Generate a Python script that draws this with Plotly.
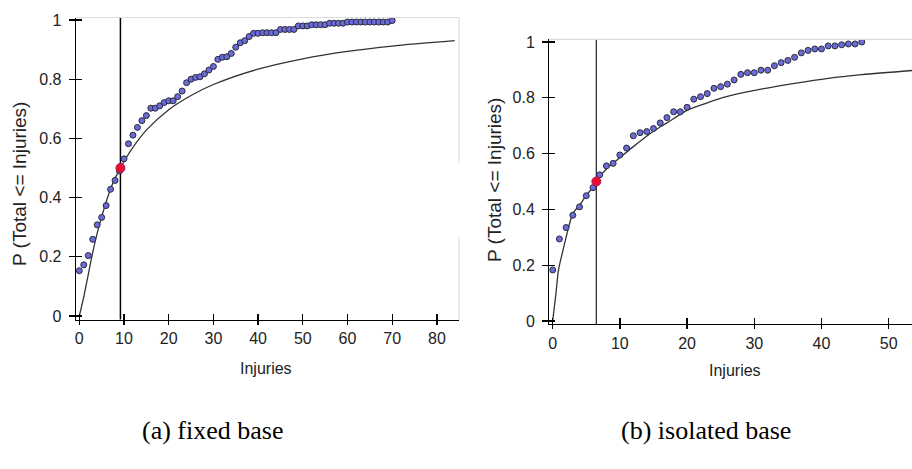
import plotly.graph_objects as go

# ---------------- data ----------------
# (a) fixed base : empirical points
inj_a = list(range(0, 71))
p_a = [0.153, 0.173, 0.204, 0.259, 0.308, 0.333, 0.373, 0.428, 0.458, 0.490,
       0.531, 0.582, 0.611, 0.637, 0.660, 0.677, 0.702, 0.702, 0.710, 0.721,
       0.727, 0.727, 0.741, 0.760, 0.788, 0.800, 0.806, 0.808, 0.818, 0.831,
       0.843, 0.867, 0.874, 0.876, 0.887, 0.908, 0.923, 0.930, 0.944, 0.955,
       0.955, 0.957, 0.957, 0.957, 0.957, 0.968, 0.968, 0.968, 0.968, 0.980,
       0.980, 0.980, 0.984, 0.984, 0.984, 0.984, 0.989, 0.989, 0.989, 0.989,
       0.993, 0.993, 0.993, 0.993, 0.993, 0.993, 0.993, 0.993, 0.993, 0.993,
       0.998]
# (a) fitted curve
fit_x_a = [0, 0.5, 1, 2, 3, 4, 5, 6, 7, 8, 9.2, 10, 12, 15, 20, 25, 30, 40, 50, 60, 70, 84]
fit_p_a = [0, 0.032, 0.065, 0.14, 0.215, 0.28, 0.335, 0.385, 0.43, 0.465, 0.5, 0.522,
           0.57, 0.628, 0.697, 0.745, 0.782, 0.834, 0.869, 0.894, 0.912, 0.930]
median_a = 9.2
median_p_a = 0.5

# (b) isolated base : empirical points
inj_b = list(range(0, 47))
p_b = [0.183, 0.294, 0.335, 0.379, 0.409, 0.449, 0.478, 0.524, 0.556, 0.565,
       0.595, 0.620, 0.664, 0.675, 0.679, 0.690, 0.710, 0.729, 0.750, 0.750,
       0.766, 0.795, 0.804, 0.815, 0.834, 0.840, 0.849, 0.864, 0.884, 0.890,
       0.890, 0.899, 0.899, 0.915, 0.926, 0.934, 0.945, 0.961, 0.970, 0.975,
       0.975, 0.986, 0.986, 0.990, 0.993, 0.993, 1.000]
# (b) fitted curve
fit_x_b = [0, 0.5, 0.85, 1.5, 2, 3, 4, 5, 6, 6.5, 8, 10, 12, 15, 17, 20, 23, 26, 31, 36, 41, 46, 53.5]
fit_p_b = [0, 0.10, 0.18, 0.25, 0.30, 0.385, 0.415, 0.45, 0.48, 0.50, 0.545, 0.585,
           0.625, 0.68, 0.71, 0.755, 0.782, 0.805, 0.831, 0.852, 0.870, 0.883, 0.898]
median_b = 6.5
median_p_b = 0.5

xticks_a = [0, 10, 20, 30, 40, 50, 60, 70, 80]
xticks_b = [0, 10, 20, 30, 40, 50]
yticks = [0, 0.2, 0.4, 0.6, 0.8, 1]
yticktext = ["0", "0.2", "0.4", "0.6", "0.8", "1"]
x_title = "Injuries"
y_title = "P (Total <= Injuries)"
captions = ["(a) fixed base", "(b) isolated base"]

# ---------------- figure ----------------
W, H = 912, 469
FONT = "Liberation Sans, Arial, sans-serif"
TXT = "#222222"
MARK_FILL = "#6a6ad8"
MARK_LINE = "#2a2a3a"

fig = go.Figure()

def add_panel(xa, ya, xs, ys, fx, fy, mx, my, curve_col):
    fig.add_trace(go.Scatter(x=fx, y=fy, mode="lines", xaxis=xa, yaxis=ya,
                             line=dict(color=curve_col, width=1.3, shape="spline", smoothing=0.8),
                             hoverinfo="skip", showlegend=False))
    fig.add_trace(go.Scatter(x=xs, y=ys, mode="markers", xaxis=xa, yaxis=ya,
                             marker=dict(size=6, color=MARK_FILL, line=dict(color=MARK_LINE, width=1)),
                             showlegend=False))
    fig.add_trace(go.Scatter(x=[mx], y=[my], mode="markers", xaxis=xa, yaxis=ya,
                             marker=dict(size=9, color="#e8102a", line=dict(color="#b0106a", width=1)),
                             showlegend=False))

add_panel("x", "y", inj_a, p_a, fit_x_a, fit_p_a, median_a, median_p_a, "#333333")
add_panel("x2", "y2", inj_b, p_b, fit_x_b, fit_p_b, median_b, median_p_b, "#333333")
# dummy traces so overlay axes (inside ticks) are drawn
fig.add_trace(go.Scatter(x=[None], y=[None], xaxis="x3", yaxis="y3", showlegend=False))
fig.add_trace(go.Scatter(x=[None], y=[None], xaxis="x4", yaxis="y4", showlegend=False))

# pixel geometry
def px_x(p):
    return p / W

def px_y(p):
    return (H - p) / H

dom_xa = [px_x(76), px_x(459)]
dom_ya = [px_y(319.5), px_y(17.5)]
rng_xa = [-0.74, 84.95]
rng_ya = [-0.0118, 1.0084]

dom_xb = [px_x(549.3), 1.0]
dom_yb = [px_y(324), px_y(39.3)]
rng_xb = [-0.5, 53.47]
rng_yb = [-0.0108, 1.0097]

tickfont = dict(family=FONT, size=16, color=TXT)

def xaxis(dom, rng, vals, anchor):
    return dict(domain=dom, range=rng, anchor=anchor, tickvals=vals, automargin=False,
                showline=True, linecolor="black", linewidth=1.3,
                ticks="outside", ticklen=4, tickwidth=1.3, tickcolor="black",
                tickfont=tickfont, showgrid=False, zeroline=False, fixedrange=True)

def yaxis(dom, rng, anchor):
    return dict(domain=dom, range=rng, anchor=anchor, tickvals=yticks, ticktext=yticktext,
                automargin=False,
                showline=True, linecolor="black", linewidth=1.3,
                ticks="outside", ticklen=6, tickwidth=1.3, tickcolor="black",
                tickfont=tickfont, ticklabelstandoff=4,
                showgrid=False, zeroline=False, fixedrange=True)

def xin(dom, rng, vals, over, anchor):
    return dict(domain=dom, range=rng, overlaying=over, anchor=anchor, tickvals=vals,
                automargin=False, fixedrange=True,
                ticks="inside", ticklen=6, tickwidth=1.3, tickcolor="black",
                showticklabels=False, showline=False, showgrid=False, zeroline=False)

def yin(dom, rng, over, anchor):
    return dict(domain=dom, range=rng, overlaying=over, anchor=anchor, tickvals=yticks,
                automargin=False, fixedrange=True,
                ticks="inside", ticklen=6, tickwidth=1.3, tickcolor="black",
                showticklabels=False, showline=False, showgrid=False, zeroline=False)

fig.update_layout(
    width=W, height=H, autosize=False, margin=dict(l=0, r=0, t=0, b=0, pad=0),
    paper_bgcolor="white", plot_bgcolor="white",
    xaxis=xaxis(dom_xa, rng_xa, xticks_a, "y"),
    yaxis=yaxis(dom_ya, rng_ya, "x"),
    xaxis2=xaxis(dom_xb, rng_xb, xticks_b, "y2"),
    yaxis2=yaxis(dom_yb, rng_yb, "x2"),
    xaxis3=xin(dom_xa, rng_xa, xticks_a, "x", "y3"),
    yaxis3=yin(dom_ya, rng_ya, "y", "x3"),
    xaxis4=xin(dom_xb, rng_xb, xticks_b, "x2", "y4"),
    yaxis4=yin(dom_yb, rng_yb, "y2", "x4"),
    showlegend=False,
)

# median vertical lines
fig.add_shape(type="line", xref="x", yref="y domain", x0=median_a, x1=median_a, y0=0, y1=1,
              line=dict(color="black", width=1.5), layer="below")
fig.add_shape(type="line", xref="x2", yref="y2 domain", x0=median_b, x1=median_b, y0=0, y1=1,
              line=dict(color="#333333", width=1.3), layer="below")

# light frame lines
GRAY = "#dcdcdc"
fig.add_shape(type="line", xref="x domain", yref="y domain", x0=0, x1=1, y0=1, y1=1,
              line=dict(color=GRAY, width=1.2))
fig.add_shape(type="line", xref="x domain", yref="y domain", x0=1, x1=1, y0=0.518, y1=1,
              line=dict(color=GRAY, width=1.2))
fig.add_shape(type="line", xref="x domain", yref="y domain", x0=1, x1=1, y0=0, y1=0.273,
              line=dict(color=GRAY, width=1.2))
fig.add_shape(type="line", xref="x2 domain", yref="y2 domain", x0=0, x1=1, y0=1, y1=1,
              line=dict(color=GRAY, width=1.2))

# titles as annotations
tfont = dict(family=FONT, size=16, color=TXT)
fig.add_annotation(text=x_title, x=px_x(266), y=px_y(368), xref="paper", yref="paper",
                   showarrow=False, font=tfont, xanchor="center", yanchor="middle")
fig.add_annotation(text=x_title, x=px_x(735), y=px_y(370), xref="paper", yref="paper",
                   showarrow=False, font=tfont, xanchor="center", yanchor="middle")
yfont = dict(family=FONT, size=19, color=TXT)
fig.add_annotation(text=y_title, x=px_x(19), y=px_y(184), xref="paper", yref="paper",
                   showarrow=False, font=yfont, textangle=-90, xanchor="center", yanchor="middle")
fig.add_annotation(text=y_title, x=px_x(494), y=px_y(180), xref="paper", yref="paper",
                   showarrow=False, font=yfont, textangle=-90, xanchor="center", yanchor="middle")

cfont = dict(family="Liberation Serif, Times New Roman, serif", size=26, color="black")
fig.add_annotation(text=captions[0], x=px_x(212), y=px_y(430), xref="paper", yref="paper",
                   showarrow=False, font=cfont, xanchor="center", yanchor="middle")
fig.add_annotation(text=captions[1], x=px_x(706), y=px_y(430), xref="paper", yref="paper",
                   showarrow=False, font=cfont, xanchor="center", yanchor="middle")

fig.write_html("out.html",
               config={"displayModeBar": False, "responsive": False, "staticPlot": True},
               post_script="document.body.style.margin='0';document.body.style.padding='0';"
                           "document.body.style.overflow='hidden';")
